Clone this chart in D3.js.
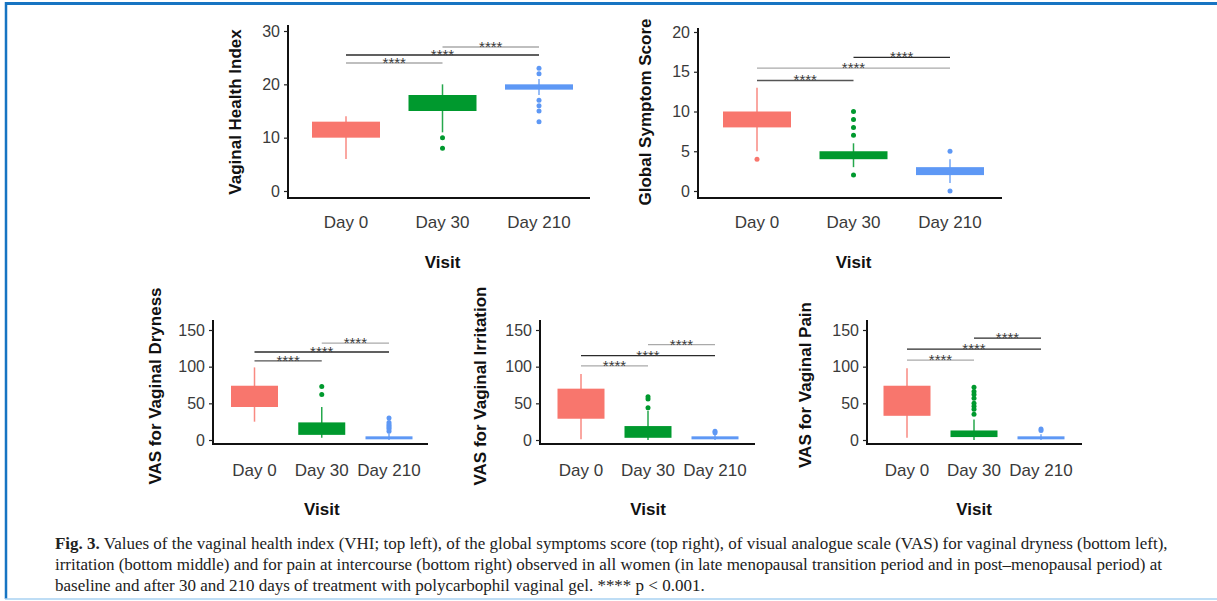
<!DOCTYPE html>
<html><head><meta charset="utf-8">
<script src="https://cdn.jsdelivr.net/npm/d3@7"></script>
<style>html,body{margin:0;padding:0;background:#fff;overflow:hidden}</style>
</head><body>
<svg id="c" width="1217" height="601"></svg>
<script>
const categories = ["Day 0", "Day 30", "Day 210"];
const xTitle = "Visit";

// Vaginal Health Index
const vhiQ1 = [10, 15, 19], vhiQ3 = [13, 18, 20], vhiLow = [6, 11, 18], vhiHigh = [14, 20, 21];
const vhiOutliers = [[], [10, 8], [23, 22, 17, 16, 15, 13]];
const vhiTicks = [0, 10, 20, 30];
const vhiSig = [24, 25.5, 27];

// Global Symptom Score
const gssQ1 = [8, 4, 2], gssQ3 = [10, 5, 3], gssLow = [5, 3, 1], gssHigh = [13, 6, 4];
const gssOutliers = [[4], [10, 9, 8, 7, 2], [5, 0]];
const gssTicks = [0, 5, 10, 15, 20];
const gssSig = [13.9, 15.45, 16.8];

// VAS dryness
const dryQ1 = [45, 7, 2], dryQ3 = [74, 24, 5], dryLow = [25, 3, 0], dryHigh = [99, 45, 9];
const dryOutliers = [[], [73, 62], [30, 24, 21, 19, 17, 15, 12]];
const dryTicks = [0, 50, 100, 150];
const drySig = [108, 120, 132];

// VAS irritation
const irrQ1 = [29, 3, 1], irrQ3 = [70, 19, 5], irrLow = [1, 0, 0], irrHigh = [90, 40, 8];
const irrOutliers = [[], [59, 56, 44], [12, 10]];
const irrTicks = [0, 50, 100, 150];
const irrSig = [101, 115, 130];

// VAS pain
const painQ1 = [33, 4, 1], painQ3 = [74, 13, 5], painLow = [3, 0, 0], painHigh = [98, 28, 8];
const painOutliers = [[], [72, 66, 62, 57, 50, 46, 42, 35], [15, 13]];
const painTicks = [0, 50, 100, 150];
const painSig = [109, 124, 139];

const sigLabel = "****";
const sigPairs = [[0, 1], [0, 2], [1, 2]];

const captionBold = "Fig. 3.";
const captionLines = [
  " Values of the vaginal health index (VHI; top left), of the global symptoms score (top right), of visual analogue scale (VAS) for vaginal dryness (bottom left),",
  "irritation (bottom middle) and for pain at intercourse (bottom right) observed in all women (in late menopausal transition period and in post\u2013menopausal period) at",
  "baseline and after 30 and 210 days of treatment with polycarbophil vaginal gel. **** p < 0.001."
];

const colors = ["#F8766D", "#00992E", "#5E98F5"];
const dark = "#2b2b2b", mid = "#555", light = "#aaa";

const panels = [
  { title: "Vaginal Health Index", q1: vhiQ1, q3: vhiQ3, lo: vhiLow, hi: vhiHigh, out: vhiOutliers, ticks: vhiTicks, sig: vhiSig,
    dom: [0, 30], yr: [191, 31], axX: 288, axR: 590, axB: 198, axT: 25, cx: [346, 539], bw: 68,
    tX: 235, tY: 112, labY: 228, visY: 268, sigC: [light, dark, light] },
  { title: "Global Symptom Score", q1: gssQ1, q3: gssQ3, lo: gssLow, hi: gssHigh, out: gssOutliers, ticks: gssTicks, sig: gssSig,
    dom: [0, 20], yr: [191, 32], axX: 698, axR: 1002, axB: 198, axT: 28, cx: [757, 950], bw: 68,
    tX: 645, tY: 112, labY: 228, visY: 268, sigC: [mid, light, dark] },
  { title: "VAS for Vaginal Dryness", q1: dryQ1, q3: dryQ3, lo: dryLow, hi: dryHigh, out: dryOutliers, ticks: dryTicks, sig: drySig,
    dom: [0, 150], yr: [440, 330], axX: 213, axR: 428, axB: 444, axT: 320, cx: [254.5, 389], bw: 47,
    tX: 155, tY: 386, labY: 476, visY: 515, sigC: [mid, dark, light] },
  { title: "VAS for Vaginal Irritation", q1: irrQ1, q3: irrQ3, lo: irrLow, hi: irrHigh, out: irrOutliers, ticks: irrTicks, sig: irrSig,
    dom: [0, 150], yr: [440, 330], axX: 540, axR: 755, axB: 444, axT: 320, cx: [581, 715], bw: 47,
    tX: 480, tY: 386, labY: 476, visY: 515, sigC: [light, dark, light] },
  { title: "VAS for Vaginal Pain", q1: painQ1, q3: painQ3, lo: painLow, hi: painHigh, out: painOutliers, ticks: painTicks, sig: painSig,
    dom: [0, 150], yr: [440, 330], axX: 867, axR: 1082, axB: 444, axT: 320, cx: [907, 1041], bw: 47,
    tX: 805, tY: 385, labY: 476, visY: 515, sigC: [light, dark, dark] }
];

const svg = d3.select("#c");
svg.append("rect").attr("width", 1217).attr("height", 601).attr("fill", "#fff");

// frame
svg.append("line").attr("x1", 5).attr("x2", 1217).attr("y1", 3.5).attr("y2", 3.5).attr("stroke", "#1774c2").attr("stroke-width", 3);
svg.append("line").attr("x1", 6).attr("x2", 6).attr("y1", 2).attr("y2", 599).attr("stroke", "#1774c2").attr("stroke-width", 2.5);
svg.append("line").attr("x1", 5).attr("x2", 1217).attr("y1", 599).attr("y2", 599).attr("stroke", "#a9d2f2").attr("stroke-width", 1.5);

const font = "'Liberation Sans', Arial, sans-serif";

panels.forEach(p => {
  const g = svg.append("g");
  const y = d3.scaleLinear().domain(p.dom).range(p.yr);
  const x = d3.scalePoint().domain(categories).range(p.cx);

  // axis lines
  g.append("line").attr("x1", p.axX).attr("x2", p.axX).attr("y1", p.axT).attr("y2", p.axB)
    .attr("stroke", "#111").attr("stroke-width", 2);
  g.append("line").attr("x1", p.axX - 1).attr("x2", p.axR).attr("y1", p.axB).attr("y2", p.axB)
    .attr("stroke", "#111").attr("stroke-width", 2);

  const ax = g.append("g").attr("transform", `translate(${p.axX},0)`)
    .call(d3.axisLeft(y).tickValues(p.ticks).tickSize(4).tickPadding(4));
  ax.select(".domain").remove();
  ax.selectAll(".tick line").attr("stroke", "#222").attr("stroke-width", 1.2);
  ax.selectAll(".tick text").attr("font-family", font).attr("font-size", 16).attr("fill", "#3a3a3a");

  // x labels
  g.selectAll(".xl").data(categories).join("text")
    .attr("x", d => x(d)).attr("y", p.labY).attr("text-anchor", "middle")
    .attr("font-family", font).attr("font-size", 17).attr("fill", "#3a3a3a").text(d => d);
  g.append("text").attr("x", (p.cx[0] + p.cx[1]) / 2).attr("y", p.visY).attr("text-anchor", "middle")
    .attr("font-family", font).attr("font-size", 17).attr("font-weight", "bold").attr("fill", "#111").text(xTitle);
  g.append("text").attr("transform", `translate(${p.tX},${p.tY}) rotate(-90)`).attr("text-anchor", "middle")
    .attr("dominant-baseline", "central")
    .attr("font-family", font).attr("font-size", 17).attr("font-weight", "bold").attr("fill", "#111").text(p.title);

  // boxes
  categories.forEach((c, i) => {
    const col = colors[i];
    g.append("line").attr("x1", x(c)).attr("x2", x(c)).attr("y1", y(p.lo[i])).attr("y2", y(p.hi[i]))
      .attr("stroke", col).attr("stroke-width", 1.5).attr("opacity", 0.85);
    g.append("rect").attr("x", x(c) - p.bw / 2).attr("width", p.bw)
      .attr("y", y(p.q3[i])).attr("height", Math.max(3, y(p.q1[i]) - y(p.q3[i])))
      .attr("fill", col);
    g.selectAll(null).data(p.out[i]).join("circle")
      .attr("cx", x(c)).attr("cy", d => y(d)).attr("r", 2.5).attr("fill", col);
  });

  // significance bars
  sigPairs.forEach((pr, k) => {
    const yy = y(p.sig[k]);
    const xa = x(categories[pr[0]]), xb = x(categories[pr[1]]);
    g.append("line").attr("x1", xa).attr("x2", xb).attr("y1", yy).attr("y2", yy)
      .attr("stroke", p.sigC[k]).attr("stroke-width", 1.3);
    g.append("text").attr("x", (xa + xb) / 2).attr("y", yy + 5).attr("text-anchor", "middle")
      .attr("font-family", font).attr("font-size", 15).attr("fill", "#3a3a3a").text(sigLabel);
  });
});

// caption
const cap = svg.append("g");
const capY = [549, 570, 591];
const capFont = "'Liberation Serif', 'Times New Roman', serif";
let fs = 15;
const t0 = cap.append("text").attr("x", 55).attr("y", capY[0]).attr("font-family", capFont).attr("fill", "#222");
t0.append("tspan").attr("font-weight", "bold").text(captionBold);
t0.append("tspan").text(captionLines[0]);
t0.attr("font-size", fs);
const w = t0.node().getComputedTextLength();
fs = fs * (1113 / w);
t0.attr("font-size", fs);
captionLines.slice(1).forEach((l, i) => {
  cap.append("text").attr("x", 55).attr("y", capY[i + 1]).attr("font-family", capFont)
    .attr("font-size", fs).attr("fill", "#222").text(l);
});
</script>
</body></html>
